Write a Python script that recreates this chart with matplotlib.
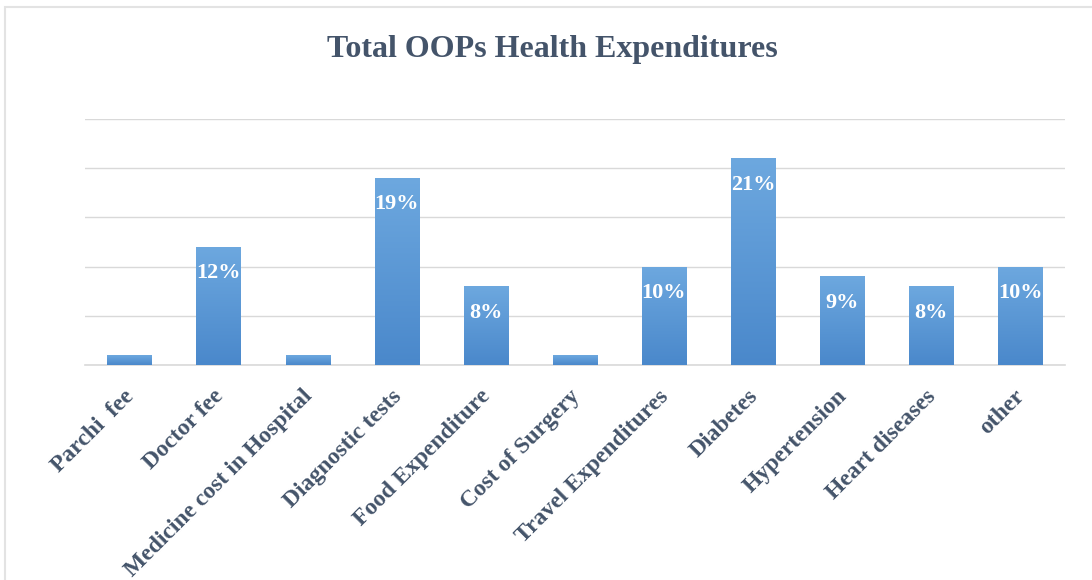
import numpy as np
import matplotlib.pyplot as plt
from matplotlib.patches import Rectangle
from matplotlib.colors import LinearSegmentedColormap
from matplotlib.transforms import ScaledTranslation

categories = ["Parchi  fee", "Doctor fee", "Medicine cost in Hospital", "Diagnostic tests",
              "Food Expenditure", "Cost of Surgery", "Travel Expenditures", "Diabetes",
              "Hypertension", "Heart diseases", "other"]
shares = [1, 12, 1, 19, 8, 1, 10, 21, 9, 8, 10]
show_label = [False, True, False, True, True, False, True, True, True, True, True]

title_color = "#44546A"
grid_color = "#D9D9D9"
serif = ["Liberation Serif", "DejaVu Serif"]

fig = plt.figure(figsize=(10.92, 5.8), dpi=100)
ax = fig.add_axes([0.078, 0.3707, 0.897, 0.4241])

x = np.arange(len(categories))
bars = ax.bar(x, shares, width=0.5, color="#5B9BD5", zorder=2)

# vertical gradient fill on each bar
grad = np.linspace(0, 1, 256).reshape(-1, 1)
cmap = LinearSegmentedColormap.from_list("barfill", ["#4A88CB", "#6DA8DF"])
for b in bars:
    x0, y0 = b.get_x(), b.get_y()
    w, h = b.get_width(), b.get_height()
    im = ax.imshow(grad, extent=[x0, x0 + w, y0, y0 + h], origin="lower",
                   cmap=cmap, aspect="auto", zorder=3)
    im.set_clip_path(b)

ax.set_xlim(-0.5, len(categories) - 0.5)
ax.set_ylim(0, 25)
ax.set_yticks([0, 5, 10, 15, 20, 25])
ax.yaxis.grid(True, color=grid_color, linewidth=1.0, zorder=0)
ax.set_axisbelow(True)
ax.tick_params(axis="y", left=False, labelleft=False)
ax.tick_params(axis="x", length=0, pad=15)
for side in ["top", "right", "left"]:
    ax.spines[side].set_visible(False)
ax.spines["bottom"].set_color(grid_color)
ax.spines["bottom"].set_linewidth(1.2)

ax.set_xticks(x)
ax.set_xticklabels(categories, rotation=45, ha="right", rotation_mode="anchor",
                   fontsize=17, fontweight="bold", color=title_color, family=serif)
shift = ScaledTranslation(-6 / 100, 0, fig.dpi_scale_trans)
for lbl in ax.get_xticklabels():
    lbl.set_transform(lbl.get_transform() + shift)

for xi, v, show in zip(x, shares, show_label):
    if show:
        ax.annotate(f"{v}%", xy=(xi, v), xytext=(0, -19), textcoords="offset points",
                    ha="center", va="center", fontsize=16, fontweight="bold",
                    color="white", family=serif, zorder=4)

fig.text(0.506, 0.914, "Total OOPs Health Expenditures", ha="center", va="center",
         fontsize=23, fontweight="bold", color=title_color, family=serif)

fig.patches.append(Rectangle((0.005, -0.01), 1.0, 0.998, transform=fig.transFigure,
                             fill=False, edgecolor="#E3E3E3", linewidth=1.5))

fig.savefig("out.png", dpi=100, facecolor="white")
